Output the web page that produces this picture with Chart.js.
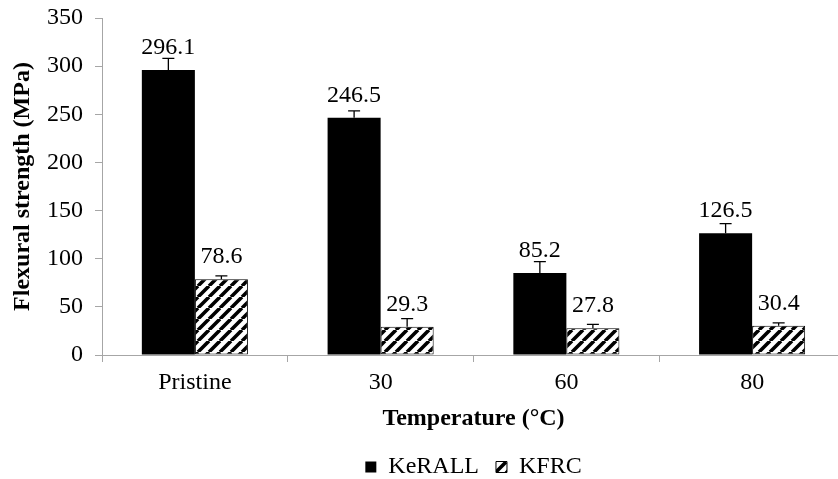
<!DOCTYPE html>
<html>
<head>
<meta charset="utf-8">
<script src="https://cdn.jsdelivr.net/npm/chart.js@4.4.0/dist/chart.umd.min.js"></script>
<style>
  html, body { margin: 0; padding: 0; background: #fff; overflow: hidden; }
</style>
</head>
<body>
<canvas id="myChart" width="850" height="479"></canvas>
<script>
const categories = ["Pristine", "30", "60", "80"];
const keralValues = [296.1, 246.5, 85.2, 126.5];
const kfrcValues = [78.6, 29.3, 27.8, 30.4];
// upper error bars
const keralErrors = [12, 7, 11.7, 10];
const kfrcErrors = [3.5, 8.5, 4, 3];
const yMin = 0;
const yMax = 350;
const yStep = 50;

const fontFamily = "'Liberation Serif', 'Times New Roman', serif";

// diagonal hatch for the KFRC bars
function makeHatch() {
  const s = 11;
  const c = document.createElement("canvas");
  c.width = s;
  c.height = s;
  const g = c.getContext("2d");
  g.fillStyle = "#fff";
  g.fillRect(0, 0, s, s);
  g.strokeStyle = "#000";
  g.lineWidth = 3.6;
  g.beginPath();
  for (let k = -1; k <= 1; k++) {
    g.moveTo(k * s, s);
    g.lineTo(k * s + s, 0);
  }
  g.stroke();
  return g.createPattern(c, "repeat");
}

// error bars + value labels
const errorBarPlugin = {
  id: "errorBars",
  afterDatasetsDraw(chart) {
    const ctx = chart.ctx;
    const yScale = chart.scales.y;
    const errs = [keralErrors, kfrcErrors];
    ctx.save();
    chart.data.datasets.forEach((ds, di) => {
      const meta = chart.getDatasetMeta(di);
      meta.data.forEach((bar, i) => {
        const v = ds.data[i];
        const top = yScale.getPixelForValue(v + errs[di][i]);
        ctx.strokeStyle = "#000";
        ctx.lineWidth = 1.3;
        ctx.beginPath();
        ctx.moveTo(bar.x, bar.y);
        ctx.lineTo(bar.x, top);
        ctx.moveTo(bar.x - 6, top);
        ctx.lineTo(bar.x + 6, top);
        ctx.stroke();

        ctx.fillStyle = "#000";
        ctx.font = "24px " + fontFamily;
        ctx.textAlign = "center";
        ctx.textBaseline = "alphabetic";
        ctx.fillText(v.toFixed(1), bar.x, bar.y - 16);
      });
    });
    ctx.restore();
  },
};

function myLoadFunction() {
  const ctx = document.getElementById("myChart").getContext("2d");
  const hatch = makeHatch();
  var myChartConfig = {
    type: "bar",
    data: {
      labels: categories,
      datasets: [
        {
          label: "KeRALL",
          data: keralValues,
          backgroundColor: "#000",
          borderColor: "#000",
          borderWidth: 0,
        },
        {
          label: "KFRC",
          data: kfrcValues,
          backgroundColor: hatch,
          borderColor: "#000",
          borderWidth: 1,
          borderSkipped: false,
        },
      ],
    },
    options: {
      responsive: false,
      animation: false,
      categoryPercentage: 0.571,
      barPercentage: 1.0,
      layout: {
        padding: { left: 0, right: 5, top: 18, bottom: -10 },
      },
      plugins: {
        tooltip: { enabled: false },
        legend: {
          position: "bottom",
          fullSize: false,
          labels: {
            boxWidth: 11,
            boxHeight: 11,
            padding: 17,
            color: "#000",
            font: { family: fontFamily, size: 24 },
          },
        },
      },
      scales: {
        x: {
          afterFit(scale) {
            scale.height = 83;
            scale.paddingLeft = 0;
            scale.paddingRight = 0;
          },
          grid: {
            display: true,
            offset: true,
            drawOnChartArea: false,
            drawTicks: true,
            tickLength: 7,
            color: "#a6a6a6",
          },
          border: { color: "#a6a6a6", width: 1 },
          ticks: {
            color: "#000",
            padding: 6,
            font: { family: fontFamily, size: 24 },
          },
          title: {
            display: true,
            text: "Temperature (°C)",
            color: "#000",
            font: { family: fontFamily, size: 24, weight: "bold" },
            padding: { top: 0, bottom: 5 },
          },
        },
        y: {
          min: yMin,
          max: yMax,
          afterFit(scale) {
            scale.width = 102;
            scale.paddingTop = 0;
            scale.paddingBottom = 0;
          },
          grid: {
            display: true,
            drawOnChartArea: false,
            drawTicks: true,
            tickLength: 7,
            color: "#a6a6a6",
          },
          border: { color: "#a6a6a6", width: 1 },
          ticks: {
            stepSize: yStep,
            color: "#000",
            padding: 12,
            font: { family: fontFamily, size: 24 },
          },
          title: {
            display: true,
            text: "Flexural strength (MPa)",
            color: "#000",
            font: { family: fontFamily, size: 24, weight: "bold" },
            padding: { top: 8, bottom: 0 },
          },
        },
      },
    },
    plugins: [errorBarPlugin],
  };
  const myChart = new Chart(ctx, myChartConfig);
}

document.addEventListener("DOMContentLoaded", myLoadFunction);
</script>
</body>
</html>
